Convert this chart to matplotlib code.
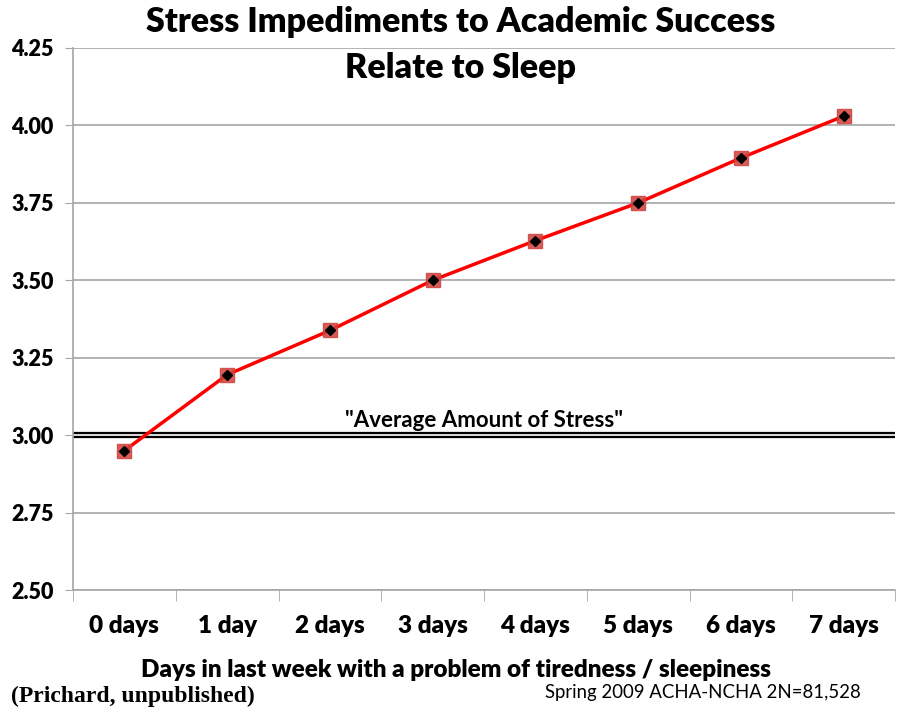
import numpy as np
import matplotlib.pyplot as plt

categories = ['0 days', '1 day', '2 days', '3 days', '4 days', '5 days', '6 days', '7 days']
stress = [2.95, 3.195, 3.338, 3.50, 3.628, 3.75, 3.895, 4.03]
average_stress = 3.00
y_ticks = [2.50, 2.75, 3.00, 3.25, 3.50, 3.75, 4.00, 4.25]

plt.rcParams['font.family'] = ['Lato', 'DejaVu Sans']

fig = plt.figure(figsize=(8.98, 7.15), dpi=100)
ax = fig.add_axes([0.0813, 0.1748, 0.9154, 0.7581])

x = np.arange(len(categories))

# grid
for v in y_ticks:
    ax.axhline(v, color='#a6a6a6', linewidth=1.2, zorder=0)

# average line (double line)
ax.plot([-0.5, 7.5], [average_stress, average_stress], color='black', linewidth=4.5,
        solid_capstyle='butt', zorder=2, clip_on=False)
ax.plot([-0.5, 7.5], [average_stress, average_stress], color='white', linewidth=1.2,
        solid_capstyle='butt', zorder=2, clip_on=False)
ax.text(3.5, average_stress + 0.012, '"Average Amount of Stress"', ha='center', va='bottom',
        fontsize=16, fontweight='bold')

# data
ax.plot(x, stress, color='red', linewidth=2.5, zorder=3)
ax.plot(x, stress, linestyle='none', marker='s', markersize=10, color='#d0403c', alpha=0.85, zorder=4)
ax.plot(x, stress, linestyle='none', marker='D', markersize=5, color='black', zorder=5)

ax.set_xlim(-0.5, 7.5)
ax.set_ylim(2.50, 4.25)
ax.set_yticks(y_ticks)
ax.set_yticklabels(['%.2f' % v for v in y_ticks], fontsize=15.5, fontweight='heavy')
ax.set_xticks(x)
ax.set_xticklabels(categories, fontsize=17.5, fontweight='heavy')
ax.set_xticks(np.arange(-0.5, 8.0, 1.0), minor=True)
ax.tick_params(axis='x', which='major', length=0, pad=18)
ax.tick_params(axis='x', which='minor', length=8, color='#a6a6a6', direction='out')
ax.tick_params(axis='y', length=6, color='#a6a6a6', pad=8)

for s in ['top', 'right']:
    ax.spines[s].set_visible(False)
for s in ['left', 'bottom']:
    ax.spines[s].set_color('#a6a6a6')
    ax.spines[s].set_linewidth(1.2)

ax.set_xlabel('Days in last week with a problem of tiredness / sleepiness',
              fontsize=17.5, fontweight='heavy', labelpad=16, x=0.466)

fig.text(0.513, 0.969, 'Stress Impediments to Academic Success', ha='center', va='center',
         fontsize=24.5, fontweight='heavy')
fig.text(0.513, 0.905, 'Relate to Sleep', ha='center', va='center',
         fontsize=24.5, fontweight='heavy')

fig.text(0.012, 0.026, '(Prichard, unpublished)', ha='left', va='center',
         fontsize=17, fontweight='bold', family=['Liberation Serif', 'DejaVu Serif'])
fig.text(0.607, 0.031, 'Spring 2009 ACHA-NCHA 2N=81,528', ha='left', va='center',
         fontsize=13.4)

fig.savefig('out.png', dpi=100)
